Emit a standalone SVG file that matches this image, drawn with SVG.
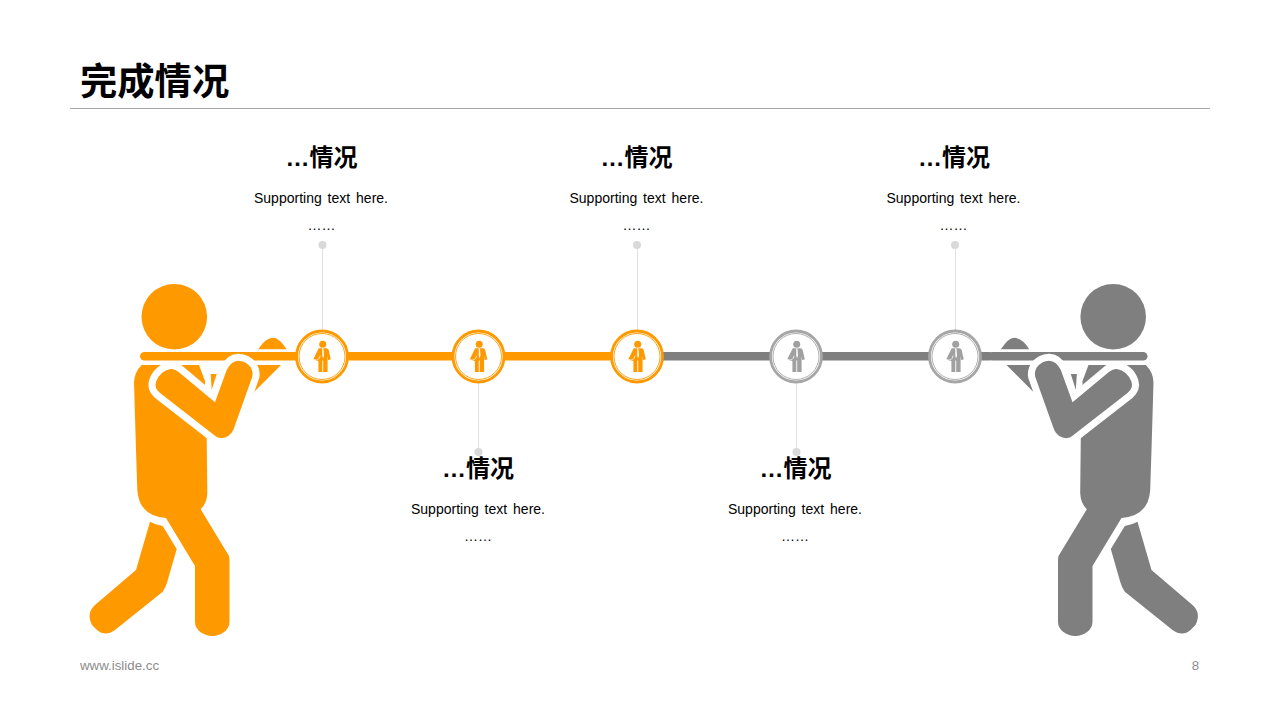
<svg xmlns="http://www.w3.org/2000/svg" width="1280" height="720" viewBox="0 0 1280 720">
<style>
text{font-family:"Liberation Sans","Noto Sans CJK SC",sans-serif;text-anchor:middle;fill:#000}
.title{font-family:"Noto Sans CJK SC",sans-serif;font-size:37.3px;font-weight:700;text-anchor:start}
.head{font-family:"Liberation Sans","Noto Sans CJK SC",sans-serif;font-size:24px;font-weight:700}
.sup{font-size:14px;word-spacing:2px}
.foot{font-size:13.3px;fill:#8c8c8c}
.o{fill:#ff9900;color:#ff9900}
.g{fill:#7f7f7f;color:#7f7f7f}
.l{fill:#a0a0a0;color:#a6a6a6}
.stem{stroke:#e0e0e0;stroke-width:1;fill:none}
.dot{fill:#d9d9d9}
.bar{stroke-width:8.6;fill:none}
.r1{fill:#fff;stroke:currentColor;stroke-width:2.8}
.r2{fill:none;stroke:currentColor;stroke-width:.9}
</style>
<defs>
<g id="fig">
<circle cx="174.3" cy="316.8" r="32.8"/>
<path d="M258.3 349.3Q265 338 273.5 337.7Q279 337.7 286.7 349.3Z"/>
<path d="M254 365H281L253.3 392.7Z"/>
<path d="M210.7 374H216.7L211.7 390Z"/>
<path d="M141.7 365H199L205 381V391L206.7 438L207.3 493Q207 503 200.7 509.3L229 556Q229.5 558 229.5 561V621.7A17 14 0 0 1 195 621.7V566L166 518Q139 516 137.3 490L136 450L134 382Q134.5 372 141.7 365Z"/>
<path d="M150 521.7Q156 525 162.7 526L176.7 549L167.3 581.7Q165.5 588 162.7 591.7L115 630Q105 637 97 630L92 625Q86 613 95 605L136 570Z"/>
<rect x="140" y="352" width="160" height="8.6" rx="4.3"/>
<path d="M170.7 369Q174 368.5 178.3 371.7L215 402.3L226.7 370Q231 361 238.3 360.7Q246 361 250.5 367Q253.5 372 252.3 376.7L233.3 430Q230 437 221.7 438.3Q217 438 215 435.7L160 393Q154 388 156 381.7Q160 371 170.7 369Z" stroke="#fff" stroke-width="14" paint-order="stroke" stroke-linejoin="round"/>
</g>
<g id="ico">
<circle cx=".7" cy="-12.2" r="3.5"/>
<path d="M-3 -8.3H4.6Q6 -8.3 6.6 -6.8L8.8 2.8L6.2 3.8L5.6 -.5V15.4H1.2V4H.3V15.4H-3.6V4.4L-6.5 4L-8.6 2.6L-4 -6.8Q-3.8 -8.3 -3 -8.3Z"/>
<path d="M.2 -8.3H1.4L2 -1L1 2L.3 -1Z" fill="#fff"/>
<path d="M-8 3.2Q-3.4 5 -1.8 -.8" fill="none" stroke="#fff" stroke-width=".8"/>
</g>
</defs>
<g id="header">
<text class="title" x="80" y="95">完成情况</text>
<path d="M70 108.500H1210" stroke="#a6a6a6" stroke-width="1"/>
</g>
<g id="figure-left" class="o"><use href="#fig"/></g>
<g id="figure-right" class="g"><use href="#fig" transform="translate(1287.500 0) scale(-1 1)"/></g>
<g id="connectors">
<path class="stem" d="M322.500 245V331M637.500 245V331M955.500 245V331M478.500 382V452M796.500 382V452"/>
<path class="bar" stroke="#ff9900" d="M296 356.300H637"/>
<path class="bar" stroke="#7f7f7f" d="M637 356.300H990"/>
</g>
<g class="dots">
<circle class="dot" cx="322.500" cy="245" r="4"/>
<circle class="dot" cx="637" cy="245" r="4"/>
<circle class="dot" cx="955" cy="245" r="4"/>
<circle class="dot" cx="478.500" cy="452" r="4"/>
<circle class="dot" cx="796.500" cy="452" r="4"/>
</g>
<g id="node-1" class="o"><circle class="r1" cx="322" cy="356.500" r="25.500"/><circle class="r2" cx="322" cy="356.500" r="23"/><use href="#ico" x="322" y="356.500"/></g>
<g id="node-2" class="o"><circle class="r1" cx="478.500" cy="356.500" r="25.500"/><circle class="r2" cx="478.500" cy="356.500" r="23"/><use href="#ico" x="478.500" y="356.500"/></g>
<g id="node-3" class="o"><circle class="r1" cx="637" cy="356.500" r="25.500"/><circle class="r2" cx="637" cy="356.500" r="23"/><use href="#ico" x="637" y="356.500"/></g>
<g id="node-4" class="l"><circle class="r1" cx="796" cy="356.500" r="25.500"/><circle class="r2" cx="796" cy="356.500" r="23"/><use href="#ico" x="796" y="356.500"/></g>
<g id="node-5" class="l"><circle class="r1" cx="955" cy="356.500" r="25.500"/><circle class="r2" cx="955" cy="356.500" r="23"/><use href="#ico" x="955" y="356.500"/></g>
<g id="label-1"><text class="head" x="321.500" y="166">…情况</text><text class="sup" x="321" y="202.500">Supporting text here.</text><text class="sup" x="321.500" y="230">……</text></g>
<g id="label-2"><text class="head" x="636.500" y="166">…情况</text><text class="sup" x="636.500" y="202.500">Supporting text here.</text><text class="sup" x="636.500" y="230">……</text></g>
<g id="label-3"><text class="head" x="954" y="166">…情况</text><text class="sup" x="953.500" y="202.500">Supporting text here.</text><text class="sup" x="953.500" y="230">……</text></g>
<g id="label-4"><text class="head" x="478" y="477">…情况</text><text class="sup" x="478" y="513.500">Supporting text here.</text><text class="sup" x="478" y="541">……</text></g>
<g id="label-5"><text class="head" x="795.500" y="477">…情况</text><text class="sup" x="795" y="513.500">Supporting text here.</text><text class="sup" x="795" y="541">……</text></g>
<g id="footer">
<text class="foot" x="80" y="670" style="text-anchor:start">www.islide.cc</text>
<text class="foot" x="1195.500" y="670">8</text>
</g>
</svg>
